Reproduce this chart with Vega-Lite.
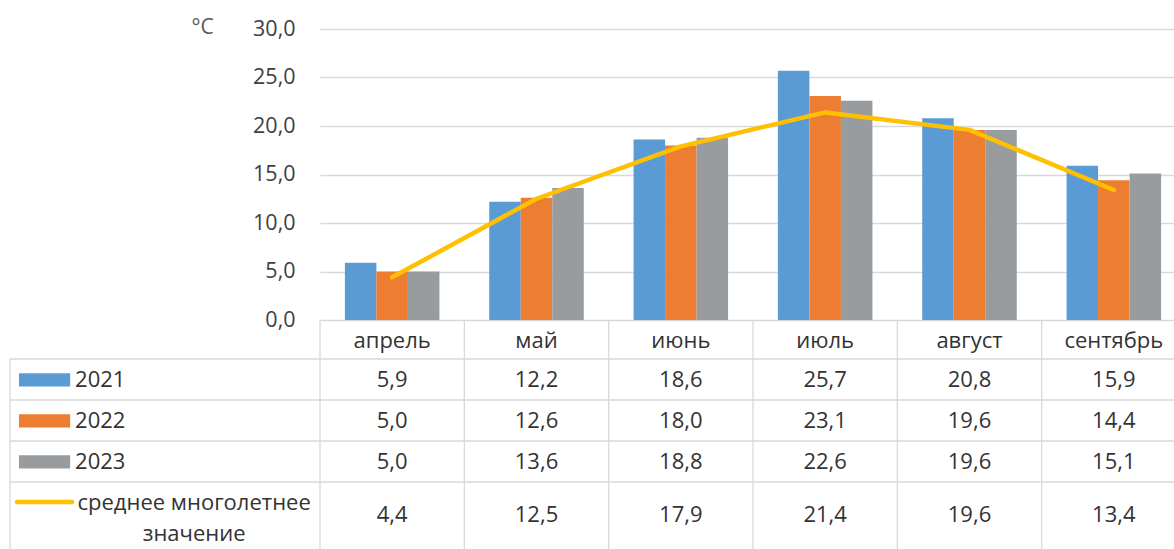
{
  "$schema": "https://vega.github.io/schema/vega-lite/v6.json",
  "width": 854,
  "height": 291,
  "autosize": {"type": "none"},
  "padding": {"left": 320, "top": 29, "right": 0, "bottom": 229},
  "background": "white",
  "config": {
    "view": {"stroke": null},
    "font": "Open Sans",
    "locale": {"number": {"decimal": ",", "thousands": " ", "grouping": [3], "currency": ["", ""]}}
  },
  "datasets": {
    "temps": [
      {"month": "апрель", "series": "2021", "value": 5.9},
      {"month": "апрель", "series": "2022", "value": 5.0},
      {"month": "апрель", "series": "2023", "value": 5.0},
      {"month": "апрель", "series": "среднее многолетнее значение", "value": 4.4},
      {"month": "май", "series": "2021", "value": 12.2},
      {"month": "май", "series": "2022", "value": 12.6},
      {"month": "май", "series": "2023", "value": 13.6},
      {"month": "май", "series": "среднее многолетнее значение", "value": 12.5},
      {"month": "июнь", "series": "2021", "value": 18.6},
      {"month": "июнь", "series": "2022", "value": 18.0},
      {"month": "июнь", "series": "2023", "value": 18.8},
      {"month": "июнь", "series": "среднее многолетнее значение", "value": 17.9},
      {"month": "июль", "series": "2021", "value": 25.7},
      {"month": "июль", "series": "2022", "value": 23.1},
      {"month": "июль", "series": "2023", "value": 22.6},
      {"month": "июль", "series": "среднее многолетнее значение", "value": 21.4},
      {"month": "август", "series": "2021", "value": 20.8},
      {"month": "август", "series": "2022", "value": 19.6},
      {"month": "август", "series": "2023", "value": 19.6},
      {"month": "август", "series": "среднее многолетнее значение", "value": 19.6},
      {"month": "сентябрь", "series": "2021", "value": 15.9},
      {"month": "сентябрь", "series": "2022", "value": 14.4},
      {"month": "сентябрь", "series": "2023", "value": 15.1},
      {"month": "сентябрь", "series": "среднее многолетнее значение", "value": 13.4}
    ]
  },
  "data": {"name": "temps"},
  "resolve": {"scale": {"x": "independent", "y": "independent"}},
  "layer": [
    {
      "layer": [
        {
          "transform": [{"filter": "datum.series != 'среднее многолетнее значение'"}],
          "mark": {"type": "bar"},
          "encoding": {
            "x": {"field": "month", "type": "nominal", "sort": null,
                  "scale": {"domain": ["апрель", "май", "июнь", "июль", "август", "сентябрь"], "range": [0, 866], "paddingInner": 0, "paddingOuter": 0},
                  "axis": null},
            "xOffset": {"field": "series", "type": "nominal",
                        "scale": {"domain": ["2021", "2022", "2023"], "paddingInner": 0, "paddingOuter": 0.79}},
            "y": {"field": "value", "type": "quantitative",
                  "scale": {"domain": [0, 30], "nice": false, "zero": true},
                  "axis": {
                    "values": [0, 5, 10, 15, 20, 25, 30],
                    "format": ".1f",
                    "grid": true, "gridColor": "#d9d9d9", "gridWidth": 1.3,
                    "domain": false, "ticks": false, "tickSize": 0,
                    "labelPadding": 25, "labelFontSize": 21.5, "labelColor": "#404040",
                    "title": "°C", "titleAngle": 0, "titleX": -118, "titleY": 4,
                    "titleAlign": "center", "titleBaseline": "alphabetic",
                    "titleFontWeight": "normal", "titleFontSize": 21, "titleColor": "#595959"
                  }},
            "color": {"field": "series", "type": "nominal",
                      "scale": {"domain": ["2021", "2022", "2023"], "range": ["#5B9BD5", "#ED7D31", "#999C9E"]},
                      "legend": null}
          }
        },
        {
          "transform": [{"filter": "datum.series == 'среднее многолетнее значение'"}],
          "mark": {"type": "line", "color": "#FFC000", "strokeWidth": 4.5, "strokeCap": "round", "strokeJoin": "round"},
          "encoding": {
            "x": {"field": "month", "type": "nominal", "sort": null},
            "y": {"field": "value", "type": "quantitative"}
          }
        }
      ]
    },
    {
      "encoding": {
        "x": {"field": "month", "type": "nominal", "sort": null,
              "scale": {"domain": ["апрель", "май", "июнь", "июль", "август", "сентябрь"], "range": [0, 866], "paddingInner": 0, "paddingOuter": 0},
              "axis": null}
      },
      "layer": [
        {
          "transform": [{"filter": "datum.month == 'апрель'"}],
          "mark": {"type": "rule", "color": "#d9d9d9", "strokeWidth": 1.3},
          "encoding": {
            "x": null,
            "y": {"field": "series", "type": "nominal", "bandPosition": 0,
                  "scale": {"type": "band", "domain": ["заголовок", "2021", "2022", "2023", "среднее многолетнее значение"], "range": [289, 494], "paddingInner": 0, "paddingOuter": 0},
                  "axis": null}
          }
        },
        {
          "transform": [{"filter": "datum.series == '2021'"}],
          "mark": {"type": "rule", "color": "#d9d9d9", "strokeWidth": 1.3},
          "encoding": {
            "x": {"field": "month", "type": "nominal", "sort": null, "bandPosition": 0},
            "y": {"datum": "среднее многолетнее значение", "type": "nominal", "bandPosition": 1.8},
            "y2": {"datum": "заголовок", "bandPosition": 0.05}
          }
        },
        {
          "transform": [{"filter": "datum.series == '2021'"}],
          "mark": {"type": "text", "fontSize": 22, "color": "#333333", "align": "center", "baseline": "middle"},
          "encoding": {
            "y": {"datum": "заголовок", "type": "nominal", "bandPosition": 0.55},
            "text": {"field": "month"}
          }
        },
        {
          "transform": [{"filter": "datum.series != 'среднее многолетнее значение'"}],
          "mark": {"type": "text", "fontSize": 22, "color": "#333333", "align": "center", "baseline": "middle"},
          "encoding": {
            "y": {"field": "series", "type": "nominal"},
            "text": {"field": "value", "type": "quantitative", "format": ".1f"}
          }
        },
        {
          "transform": [{"filter": "datum.series == 'среднее многолетнее значение'"}],
          "mark": {"type": "text", "fontSize": 22, "color": "#333333", "align": "center", "baseline": "middle"},
          "encoding": {
            "y": {"field": "series", "type": "nominal", "bandPosition": 0.8},
            "text": {"field": "value", "type": "quantitative", "format": ".1f"}
          }
        }
      ]
    },
    {
      "transform": [{"filter": "datum.month == 'апрель'"}],
      "encoding": {
        "x": {"datum": "легенда", "type": "nominal",
              "scale": {"type": "band", "domain": ["легенда"], "range": [-310, 0], "paddingInner": 0, "paddingOuter": 0},
              "axis": null}
      },
      "layer": [
        {
          "mark": {"type": "rule", "color": "#d9d9d9", "strokeWidth": 1.3},
          "encoding": {
            "x": {"datum": "легенда", "type": "nominal", "bandPosition": 0},
            "x2": {"datum": "легенда", "bandPosition": 1},
            "y": {"field": "series", "type": "nominal", "bandPosition": 0,
                  "scale": {"type": "band", "domain": ["заголовок", "2021", "2022", "2023", "среднее многолетнее значение"], "range": [289, 494], "paddingInner": 0, "paddingOuter": 0},
                  "axis": null}
          }
        },
        {
          "transform": [{"filter": "datum.series == '2021'"}],
          "mark": {"type": "rule", "color": "#d9d9d9", "strokeWidth": 1.3},
          "encoding": {
            "x": {"datum": "легенда", "type": "nominal", "bandPosition": 0},
            "y": {"datum": "среднее многолетнее значение", "type": "nominal", "bandPosition": 1.8},
            "y2": {"datum": "2021", "bandPosition": 0}
          }
        },
        {
          "transform": [{"filter": "datum.series != 'среднее многолетнее значение'"}],
          "mark": {"type": "rect"},
          "encoding": {
            "x": {"datum": "легенда", "type": "nominal", "bandPosition": 0.029},
            "x2": {"datum": "легенда", "bandPosition": 0.194},
            "y": {"field": "series", "type": "nominal", "bandPosition": 0.35},
            "y2": {"field": "series", "bandPosition": 0.67},
            "color": {"field": "series", "type": "nominal",
                      "scale": {"domain": ["2021", "2022", "2023"], "range": ["#5B9BD5", "#ED7D31", "#999C9E"]},
                      "legend": null}
          }
        },
        {
          "transform": [{"filter": "datum.series == 'среднее многолетнее значение'"}],
          "mark": {"type": "rule", "color": "#FFC000", "strokeWidth": 4.5, "strokeCap": "round"},
          "encoding": {
            "x": {"datum": "легенда", "type": "nominal", "bandPosition": 0.023},
            "x2": {"datum": "легенда", "bandPosition": 0.2},
            "y": {"field": "series", "type": "nominal", "bandPosition": 0.49}
          }
        },
        {
          "transform": [{"filter": "datum.series != 'среднее многолетнее значение'"}],
          "mark": {"type": "text", "fontSize": 22, "color": "#333333", "align": "left", "baseline": "middle"},
          "encoding": {
            "x": {"datum": "легенда", "type": "nominal", "bandPosition": 0.21},
            "y": {"field": "series", "type": "nominal"},
            "text": {"field": "series"}
          }
        },
        {
          "transform": [{"filter": "datum.series == 'среднее многолетнее значение'"}],
          "mark": {"type": "text", "fontSize": 22, "color": "#333333", "align": "center", "baseline": "middle", "lineHeight": 31},
          "encoding": {
            "x": {"datum": "легенда", "type": "nominal", "bandPosition": 0.594},
            "y": {"field": "series", "type": "nominal", "bandPosition": 0.5},
            "text": {"value": ["среднее многолетнее", "значение"]}
          }
        }
      ]
    }
  ]
}
